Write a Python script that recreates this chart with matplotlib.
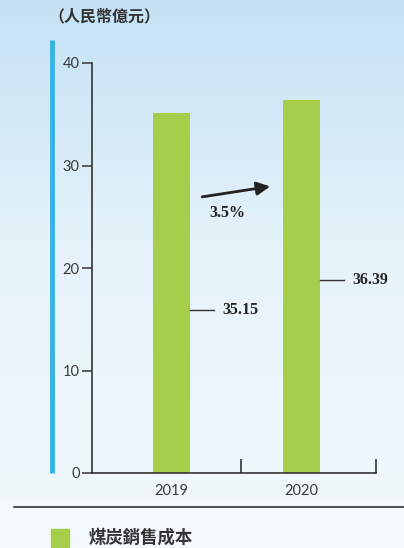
import numpy as np
import matplotlib
matplotlib.use('Agg')
import matplotlib.pyplot as plt
from matplotlib.colors import LinearSegmentedColormap

plt.rcParams['font.family'] = ['Noto Sans CJK TC', 'DejaVu Sans']

# 数据
years = ['2019', '2020']
cost = [35.15, 36.39]
growth = '3.5%'
unit = '（人民幣億元）'
legend_name = '煤炭銷售成本'

W, H = 404, 548
fig = plt.figure(figsize=(W / 100, H / 100), dpi=100)

# 背景渐变
bg = fig.add_axes([0, 0, 1, 1], zorder=-5)
grad = np.linspace(0, 1, 256).reshape(-1, 1)
cmap = LinearSegmentedColormap.from_list('bg', ['#c4e2f5', '#e6f3fa', '#f0f8fc'])
bg.imshow(grad, aspect='auto', cmap=cmap, extent=[0, W, 500, 0])
bg.axhspan(500, H, color='#f4f9fd')
bg.set_xlim(0, W)
bg.set_ylim(H, 0)
bg.axis('off')
bg.plot([14, W], [507, 507], color='#333333', lw=1.2)
bg.plot([52, 52], [40, 473], color='#36b3e4', lw=3.5, solid_capstyle='butt')
bg.text(48, 16, unit, fontsize=11.5, fontweight='bold', color='#333333', va='center', ha='left')
bg.add_patch(plt.Rectangle((51, 529), 18, 18, color='#a6ce4b'))
bg.text(89, 538, legend_name, fontsize=12.5, fontweight='bold', color='#333333', va='center', ha='left')

# 主图
ax = fig.add_axes([92 / W, (H - 473) / H, 284 / W, 410 / H])
ax.set_facecolor('none')
x = np.arange(len(years))
ax.bar(x, cost, width=0.285, color='#a6ce4b', zorder=2)
ax.set_ylim(0, 40)
ax.set_xlim(-0.612, 1.573)
for s in ['top', 'right']:
    ax.spines[s].set_visible(False)
for s in ['left', 'bottom']:
    ax.spines[s].set_color('#333333')
    ax.spines[s].set_linewidth(1.2)
ax.set_yticks([0, 10, 20, 30, 40])
ax.tick_params(axis='y', direction='out', length=7, width=1.2, color='#444444',
               labelsize=10.5, labelcolor='#3a3a3a', pad=2)
ax.set_xticks(x)
ax.set_xticklabels(years)
ax.tick_params(axis='x', which='major', length=0, labelsize=10.5, labelcolor='#3a3a3a', pad=8)
ax.set_xticks([0.535, 1.573], minor=True)
ax.tick_params(axis='x', which='minor', direction='in', length=10, width=1.2, color='#333333')
for lab in ax.get_xticklabels() + ax.get_yticklabels():
    lab.set_family('Lato')

# 数值标注
label_y = [15.9, 18.8]
for i, v in enumerate(cost):
    ax.plot([i + 0.142, i + 0.325], [label_y[i], label_y[i]], color='#333333', lw=1)
    ax.text(i + 0.39, label_y[i], f'{v:.2f}', fontsize=11.5, fontweight='bold',
            family='Liberation Serif', color='#222222', va='center', ha='left')

# 增长箭头
ax.annotate('', xy=(0.78, 28.0), xytext=(0.215, 26.9),
            arrowprops=dict(arrowstyle='-|>,head_length=0.8,head_width=0.4',
                            color='#222222', lw=2))
ax.text(0.43, 25.4, growth, fontsize=11.5, fontweight='bold', family='Liberation Serif',
        color='#222222', ha='center', va='center')

fig.savefig('out.png', dpi=100)
